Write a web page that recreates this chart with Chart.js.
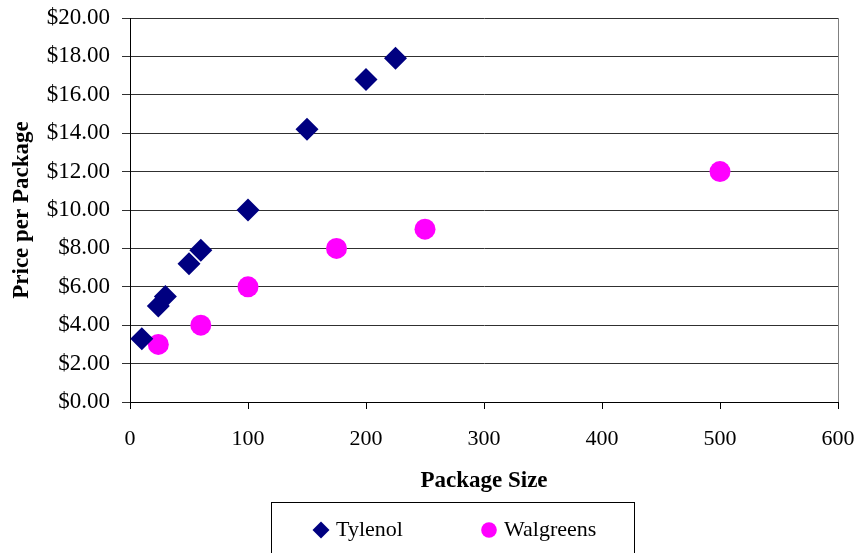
<!DOCTYPE html>
<html>
<head>
<meta charset="utf-8">
<script src="https://cdn.jsdelivr.net/npm/chart.js@4"></script>
<style>
  html, body { margin: 0; padding: 0; background: #fff; }
  #wrap { width: 858px; height: 553px; }
</style>
</head>
<body>
<div id="wrap"><canvas id="priceChart" width="858" height="553"></canvas></div>
<script>
// Package sizes and prices
const tylenolSizes = [10, 24, 30, 50, 60, 100, 150, 200, 225];
const tylenolPrices = [3.3, 5.0, 5.5, 7.2, 7.9, 10.0, 14.2, 16.8, 17.9];
const walgreensSizes = [24, 60, 100, 175, 250, 500];
const walgreensPrices = [3.0, 4.0, 6.0, 8.0, 9.0, 12.0];
const seriesNames = ['Tylenol', 'Walgreens'];

const xTicks = [0, 100, 200, 300, 400, 500, 600];
const yTicks = [0, 2, 4, 6, 8, 10, 12, 14, 16, 18, 20];

const serif = '"Liberation Serif", "Times New Roman", serif';

function toPoints(xs, ys) {
    return xs.map((x, i) => ({ x: x, y: ys[i] }));
}

// Right-hand border of the plot and the boxed legend underneath
const framePlugin = {
    id: 'frame',
    afterDraw(chart) {
        const ctx = chart.ctx;
        const area = chart.chartArea;
        ctx.save();
        ctx.strokeStyle = '#808080';
        ctx.lineWidth = 1;
        ctx.beginPath();
        ctx.moveTo(Math.round(area.right) + 0.5, area.top);
        ctx.lineTo(Math.round(area.right) + 0.5, area.bottom);
        ctx.stroke();

        // legend box
        ctx.strokeStyle = '#000';
        ctx.strokeRect(271.5, 502.5, 363, 60);

        const itemX = [321, 489];
        const itemY = 530;
        ctx.font = '22px ' + serif;
        ctx.textBaseline = 'middle';
        ctx.textAlign = 'left';
        chart.data.datasets.forEach((ds, i) => {
            ctx.fillStyle = ds.backgroundColor;
            Chart.helpers.drawPoint(ctx, {
                pointStyle: ds.pointStyle,
                radius: ds.pointStyle === 'rectRot' ? 8.5 : 7.8,
                rotation: 0,
                borderWidth: 0
            }, itemX[i], itemY);
            ctx.fillStyle = '#000';
            ctx.fillText(ds.label, itemX[i] + 15, itemY);
        });
        ctx.restore();
    }
};

const ctx = document.getElementById('priceChart').getContext('2d');
const priceChart = new Chart(ctx, {
    type: 'scatter',
    data: {
        datasets: [
            {
                label: seriesNames[0],
                data: toPoints(tylenolSizes, tylenolPrices),
                pointStyle: 'rectRot',
                pointRadius: 11.5,
                backgroundColor: '#000080',
                borderColor: '#000080',
                borderWidth: 0
            },
            {
                label: seriesNames[1],
                data: toPoints(walgreensSizes, walgreensPrices),
                pointStyle: 'circle',
                pointRadius: 10.5,
                backgroundColor: '#FF00FF',
                borderColor: '#FF00FF',
                borderWidth: 0
            }
        ]
    },
    options: {
        responsive: false,
        animation: false,
        layout: { padding: { top: 18, right: 20, left: 0, bottom: 0 } },
        plugins: {
            legend: { display: false },
            tooltip: { enabled: false }
        },
        scales: {
            x: {
                type: 'linear',
                min: xTicks[0],
                max: xTicks[xTicks.length - 1],
                afterBuildTicks: (scale) => { scale.ticks = xTicks.map(v => ({ value: v })); },
                afterFit: (scale) => {
                    scale.height = 151;
                    scale.paddingLeft = 0;
                    scale.paddingRight = 0;
                },
                grid: { drawOnChartArea: false, drawTicks: true, tickLength: 7, color: '#000' },
                border: { color: '#000', width: 1 },
                ticks: {
                    color: '#000',
                    padding: 17,
                    maxRotation: 0,
                    font: { family: serif, size: 22 }
                },
                title: {
                    display: true,
                    text: 'Package Size',
                    color: '#000',
                    font: { family: serif, size: 23, weight: 'bold' },
                    padding: { top: 0, bottom: 58 }
                }
            },
            y: {
                type: 'linear',
                min: yTicks[0],
                max: yTicks[yTicks.length - 1],
                afterBuildTicks: (scale) => { scale.ticks = yTicks.map(v => ({ value: v })); },
                afterFit: (scale) => {
                    scale.width = 130;
                    scale.paddingTop = 0;
                    scale.paddingBottom = 0;
                },
                grid: { color: '#303030', tickLength: 8, lineWidth: 1 },
                border: { color: '#000', width: 1 },
                ticks: {
                    color: '#000',
                    padding: 12,
                    font: { family: serif, size: 23 },
                    callback: (value) => '$' + Number(value).toFixed(2)
                },
                title: {
                    display: true,
                    text: 'Price per Package',
                    color: '#000',
                    font: { family: serif, size: 23, weight: 'bold' },
                    padding: { top: 8, bottom: 0 }
                }
            }
        }
    },
    plugins: [framePlugin]
});
</script>
</body>
</html>
